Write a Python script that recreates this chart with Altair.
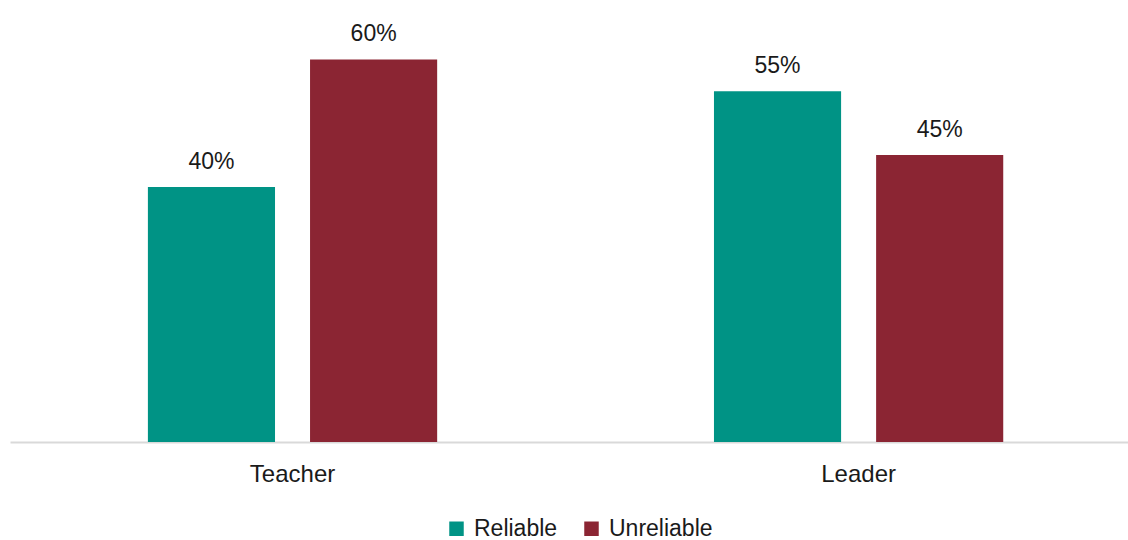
import altair as alt
import pandas as pd

categories = ["Teacher", "Teacher", "Leader", "Leader"]
series = ["Reliable", "Unreliable", "Reliable", "Unreliable"]
values = [0.40, 0.60, 0.55, 0.45]

df = pd.DataFrame({"role": categories, "rating": series, "share": values})

FONT = "Liberation Sans"
order = ["Teacher", "Leader"]
sorder = ["Reliable", "Unreliable"]

x = alt.X("role:N", sort=order, title=None,
          scale=alt.Scale(paddingInner=0.489, paddingOuter=0.232, align=0.525),
          axis=alt.Axis(labelAngle=0, ticks=False, domainColor="#d9d9d9", domainWidth=2,
                        labelFontSize=24, labelFont=FONT, labelColor="#1a1a1a", labelPadding=20))
xo = alt.XOffset("rating:N", sort=sorder, scale=alt.Scale(paddingInner=0.216, paddingOuter=0))
y = alt.Y("share:Q", scale=alt.Scale(domain=[0, 0.69], nice=False), axis=None)

color = alt.Color("rating:N", sort=sorder,
                  scale=alt.Scale(domain=sorder, range=["#009385", "#8b2533"]),
                  legend=alt.Legend(title=None, orient="none", direction="horizontal",
                                    legendX=435, legendY=515, symbolType="square", symbolSize=210,
                                    symbolStrokeWidth=0, labelFontSize=23, labelFont=FONT,
                                    labelColor="#1a1a1a", columnPadding=22, labelOffset=6,
                                    symbolOpacity=1))

base = alt.Chart(df)
bars = base.mark_bar().encode(x=x, xOffset=xo, y=y, color=color)
text = base.mark_text(dy=-18, baseline="alphabetic", fontSize=23, font=FONT, color="#1a1a1a").encode(
    x=x, xOffset=xo, y=y, text=alt.Text("share:Q", format=".0%"))

chart = (bars + text).properties(
    width=1118, height=440,
    padding={"left": 10, "top": 2, "right": 0, "bottom": 98},
    autosize=alt.AutoSizeParams(type="none"),
    background="white",
).configure_view(stroke=None)

chart.save("out.html", embed_options={"renderer": "svg", "actions": False})
